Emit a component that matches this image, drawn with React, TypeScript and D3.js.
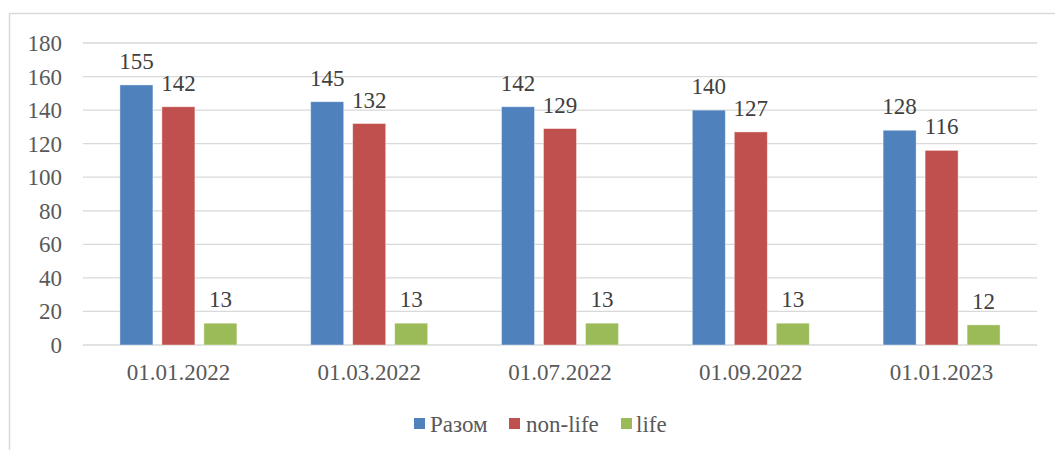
import * as d3 from "d3";

const categories = ["01.01.2022", "01.03.2022", "01.07.2022", "01.09.2022", "01.01.2023"];
const seriesNames = ["Разом", "non-life", "life"];
const seriesColors = ["#4F81BD", "#C0504D", "#9BBB59"];
const totalValues = [155, 145, 142, 140, 128];
const nonLifeValues = [142, 132, 129, 127, 116];
const lifeValues = [13, 13, 13, 13, 12];
const yTicks = [0, 20, 40, 60, 80, 100, 120, 140, 160, 180];

const seriesValues = [totalValues, nonLifeValues, lifeValues];

const WIDTH = 1055;
const HEIGHT = 450;
const textStyle = {
  fontFamily: "'Liberation Serif', Tinos, 'Times New Roman', Times, 'DejaVu Serif', serif",
  fontSize: "23px",
};

const App = () => {
  const plot = { left: 83, right: 1037, top: 43, bottom: 345 };

  const x = d3.scaleBand<string>().domain(categories).range([plot.left, plot.right]).padding(0);
  const inner = d3
    .scaleBand<string>()
    .domain(seriesNames)
    .range([0, x.bandwidth()])
    .paddingInner(0.214)
    .paddingOuter(0.879);
  const y = d3.scaleLinear().domain([0, 180]).range([plot.bottom, plot.top]);

  const legendItems = [
    { name: seriesNames[0], sq: 414, tx: 430 },
    { name: seriesNames[1], sq: 509, tx: 526 },
    { name: seriesNames[2], sq: 621, tx: 636 },
  ];

  return (
    <svg width={WIDTH} height={HEIGHT} style={{ position: "absolute", left: 0, top: 0, background: "white" }}>
      <rect x={9.5} y={13.5} width={WIDTH} height={HEIGHT} fill="white" stroke="#d9d9d9" strokeWidth={1.5} />

      {yTicks.map((t) => (
        <g key={t}>
          <line x1={plot.left} x2={plot.right} y1={y(t)} y2={y(t)} stroke="#d9d9d9" strokeWidth={1.3} />
          <text x={62} y={y(t) + 8} textAnchor="end" style={textStyle} fill="#595959">
            {t}
          </text>
        </g>
      ))}

      {categories.map((c, ci) => (
        <g key={c}>
          {seriesNames.map((s, si) => {
            const v = seriesValues[si][ci];
            const bx = (x(c) ?? 0) + (inner(s) ?? 0);
            return (
              <g key={s}>
                <rect
                  x={bx}
                  y={y(v)}
                  width={inner.bandwidth()}
                  height={plot.bottom - y(v)}
                  fill={seriesColors[si]}
                  stroke="#ffffff"
                  strokeOpacity={0.5}
                  strokeWidth={0.8}
                />
                <text
                  x={bx + inner.bandwidth() / 2}
                  y={y(v) - 16}
                  textAnchor="middle"
                  style={textStyle}
                  fill="#404040"
                >
                  {v}
                </text>
              </g>
            );
          })}
          <text x={(x(c) ?? 0) + x.bandwidth() / 2} y={380} textAnchor="middle" style={textStyle} fill="#595959">
            {c}
          </text>
        </g>
      ))}

      {legendItems.map((item, i) => (
        <g key={item.name}>
          <rect x={item.sq} y={418} width={11} height={11} fill={seriesColors[i]} />
          <text x={item.tx} y={432} style={textStyle} fill="#595959">
            {item.name}
          </text>
        </g>
      ))}
    </svg>
  );
};

export default App;
